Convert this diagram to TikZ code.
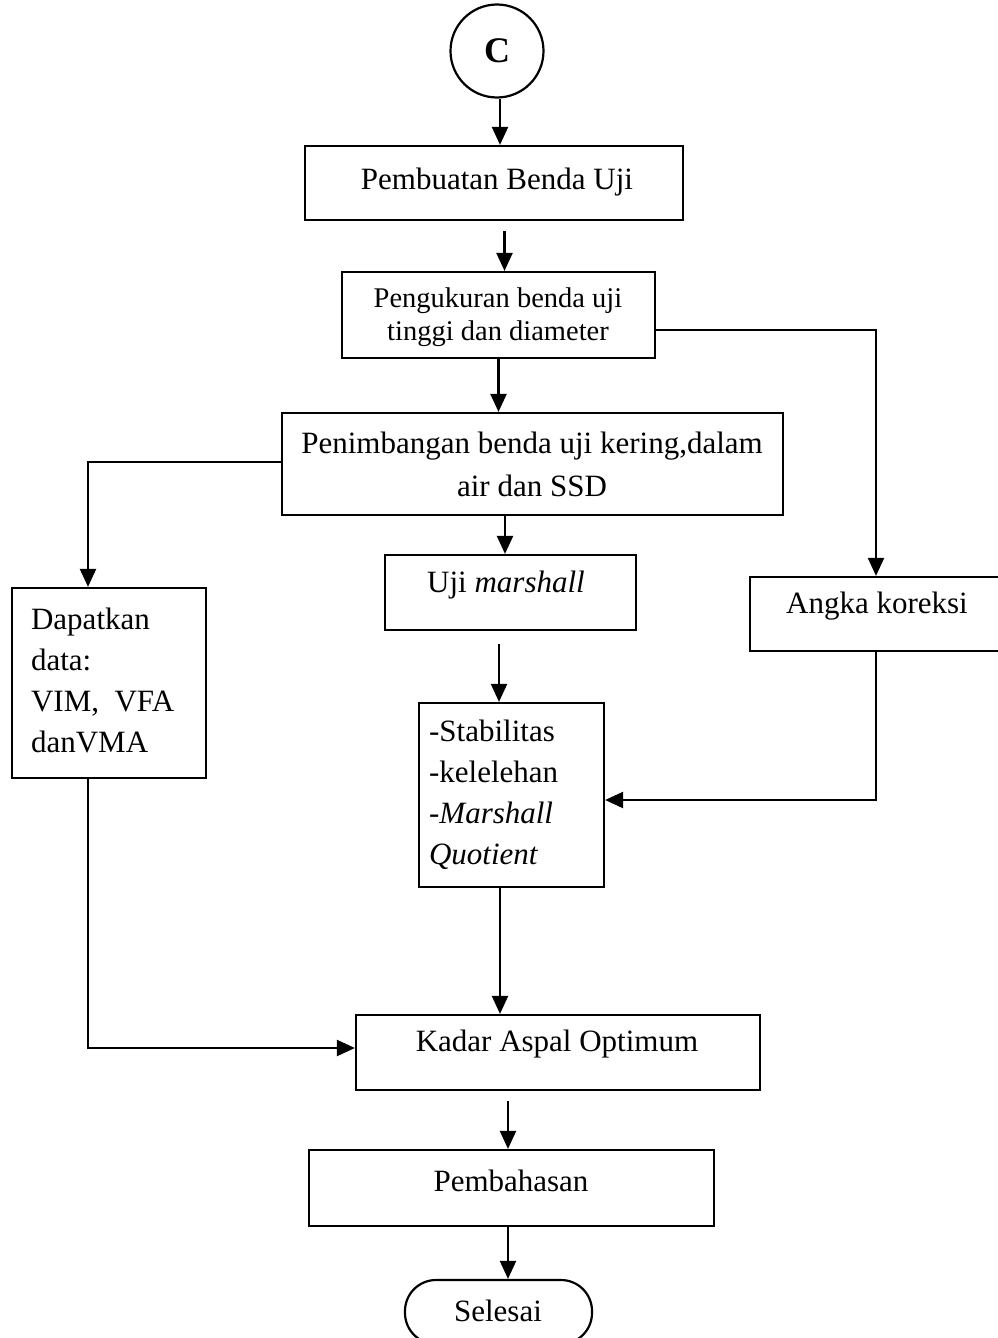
\documentclass[tikz,border=0pt]{standalone}
\usepackage{fontspec}
\setmainfont{Liberation Serif}
\usetikzlibrary{arrows.meta,calc}
\begin{document}
\begin{tikzpicture}[x=1pt,y=-1pt,line width=2.2pt,
  box/.style={draw,rectangle,inner sep=0pt},
  txt/.style={font=\fontsize{31}{41}\selectfont,inner sep=0pt,align=center},
  arr/.style={-{Triangle[length=18pt,width=16pt]}}]
\useasboundingbox (0,0) rectangle (997,1338);
% start connector
\node[draw,circle,minimum size=93pt,inner sep=0pt,font=\fontsize{36}{40}\selectfont\bfseries] (C) at (497,51) {C};
% boxes
\node[box,minimum width=378pt,minimum height=74pt] (b1) at (494,183) {};
\node[txt] (t1) at (497,182) {Pembuatan Benda Uji};
\node[box,minimum width=313pt,minimum height=86pt] (b2) at (498.5,315) {};
\node[txt,font=\fontsize{28.5}{33}\selectfont] (t2) at (498,317) {Pengukuran benda uji\\tinggi dan diameter};
\node[box,minimum width=501pt,minimum height=102pt] (b3) at (532.5,464) {};
\node[txt,font=\fontsize{31}{43}\selectfont] (t3) at (532,464) {Penimbangan benda uji kering,dalam\\air dan SSD};
\node[box,minimum width=194pt,minimum height=190pt] (bD) at (109,683) {};
\node[txt,align=left,anchor=west] (tD) at (30,680) {Dapatkan\\data:\\VIM,\ \ VFA\\danVMA};
\node[box,minimum width=251pt,minimum height=75pt] (bU) at (510.5,592.5) {};
\node[txt] (tU) at (506,585) {Uji \textit{marshall}};
\node[box,minimum width=185pt,minimum height=184pt] (bS) at (511.5,795) {};
\node[txt,align=left,anchor=west] (tS) at (428,795) {-Stabilitas\\-kelelehan\\-\textit{Marshall}\\\textit{Quotient}};
\node[box,minimum width=252pt,minimum height=74pt] (bA) at (876,614) {};
\node[txt] (tA) at (877,606) {Angka koreksi};
\node[box,minimum width=404pt,minimum height=75pt] (bK) at (558,1052.5) {};
\node[txt] (tK) at (557,1044) {Kadar Aspal Optimum};
\node[box,minimum width=405pt,minimum height=76pt] (bP) at (511.5,1188) {};
\node[txt] (tP) at (511,1181) {Pembahasan};
\node[draw,rounded corners=31pt,minimum width=187pt,minimum height=64pt,inner sep=0pt] (E) at (498.5,1312) {};
\node[txt] (tE) at (498,1311) {Selesai};
% free connector ends
\coordinate (s1) at ([xshift=10.5pt,yshift=-10pt]b1.south);
\coordinate (sU) at ([yshift=-13pt]bU.south);
\coordinate (sK) at ([yshift=-10pt]bK.south);
\coordinate (iS) at ([xshift=-12.5pt]bS.north);
\coordinate (iP) at ([xshift=-3.5pt]bP.north);
% connectors
\draw[arr] ([xshift=3pt]C.south) -- ([xshift=3pt]C.south |- b1.north);
\draw[arr] (s1) -- (s1 |- b2.north);
\draw[arr] (b2.south) -- (b2.south |- b3.north);
\draw[arr] ([yshift=-15pt]b2.east) -| (bA.north);
\draw[arr] ([yshift=2pt]b3.west) -| ([xshift=-21pt]bD.north);
\draw[arr] ([xshift=-5.5pt]bU.north |- b3.south) -- ([xshift=-5.5pt]bU.north);
\draw[arr] (iS |- sU) -- (iS);
\draw[arr] (bA.south) |- ([yshift=-5pt]bS.east);
\draw[arr] ([xshift=-11.5pt]bS.south) -- ([xshift=-11.5pt]bS.south |- bK.north);
\draw[arr] ([xshift=-21pt]bD.south) |- ([yshift=4.5pt]bK.west);
\draw[arr] (iP |- sK) -- (iP);
\draw[arr] ([xshift=-3.5pt]bP.south) -- ([xshift=-3.5pt]bP.south |- E.north);
\end{tikzpicture}
\end{document}
